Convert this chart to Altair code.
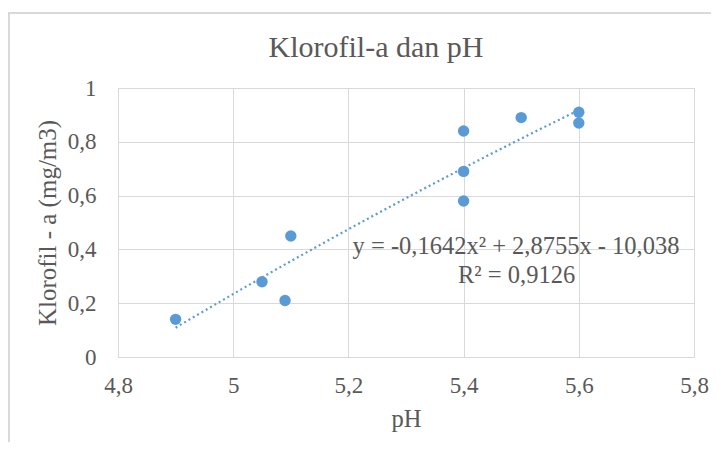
import altair as alt
import pandas as pd

ph = [4.9, 5.05, 5.09, 5.1, 5.4, 5.4, 5.4, 5.5, 5.6, 5.6]
chl = [0.14, 0.28, 0.21, 0.45, 0.84, 0.69, 0.58, 0.89, 0.91, 0.87]
title_text = "Klorofil-a  dan pH"
x_title = "pH"
y_title = "Klorofil - a (mg/m3)"
eq_lines = ["y = -0,1642x² + 2,8755x - 10,038", "R² = 0,9126"]
eq_x = [5.491, 5.492]
eq_y = [0.384, 0.275]

df = pd.DataFrame({"ph": ph, "chl": chl})
eq_df = pd.DataFrame({"t": eq_lines, "x": eq_x, "y": eq_y})

FONT = "Liberation Serif"
GRAY = "#595959"
BLUE = "#5b9bd5"
label_expr = "replace(format(datum.value, '.2~f'), '.', ',')"

xscale = alt.Scale(domain=[4.8, 5.8], nice=False, zero=False)
yscale = alt.Scale(domain=[0, 1], nice=False)

xaxis = alt.Axis(values=[4.8, 5.0, 5.2, 5.4, 5.6, 5.8], labelExpr=label_expr, title=x_title,
                 domain=False, ticks=False, gridColor="#d9d9d9", labelPadding=17,
                 titlePadding=10, labelFontSize=23, titleFontSize=24.5, labelFont=FONT,
                 titleFont=FONT, labelColor=GRAY, titleColor=GRAY, titleFontWeight="normal",
                 labelFlush=False)
yaxis = alt.Axis(values=[0, 0.2, 0.4, 0.6, 0.8, 1.0], labelExpr=label_expr, title=y_title,
                 domain=False, ticks=False, gridColor="#d9d9d9", labelPadding=22,
                 titlePadding=7, labelFontSize=23, titleFontSize=25, labelFont=FONT,
                 titleFont=FONT, labelColor=GRAY, titleColor=GRAY, titleFontWeight="normal",
                 labelFlush=False)

base = alt.Chart(df)

points = base.mark_circle(size=130, color=BLUE, opacity=1).encode(
    x=alt.X("ph:Q", scale=xscale, axis=xaxis),
    y=alt.Y("chl:Q", scale=yscale, axis=yaxis),
)

trend = base.transform_regression("ph", "chl", method="poly", order=2).mark_line(
    color=BLUE, strokeWidth=2.2, strokeDash=[2, 3]
).encode(x=alt.X("ph:Q", scale=xscale), y=alt.Y("chl:Q", scale=yscale))

eq = alt.Chart(eq_df).mark_text(font=FONT, fontSize=24.5, color=GRAY, align="center",
                                baseline="alphabetic").encode(
    x=alt.X("x:Q", scale=xscale), y=alt.Y("y:Q", scale=yscale), text="t:N")

deco = alt.Data(values=[{"title": title_text}])

border = alt.Chart(deco).mark_rect(
    fill=None, stroke="#d9d9d9", strokeWidth=2
).encode(x=alt.value(-109), x2=alt.value(700), y=alt.value(-75), y2=alt.value(500))

title_mark = alt.Chart(deco).mark_text(
    font=FONT, fontSize=30, color=GRAY, align="center", baseline="alphabetic"
).encode(x=alt.value(258), y=alt.value(-31), text="title:N")

chart = alt.layer(border, trend, points, eq, title_mark).properties(
    width=576, height=269,
    autosize=alt.AutoSizeParams(type="none"),
    padding={"left": 110, "top": 80, "right": 17, "bottom": 85},
).configure_view(stroke=None).configure(background="white")

chart.save("out.html", embed_options={"renderer": "svg", "actions": False})
